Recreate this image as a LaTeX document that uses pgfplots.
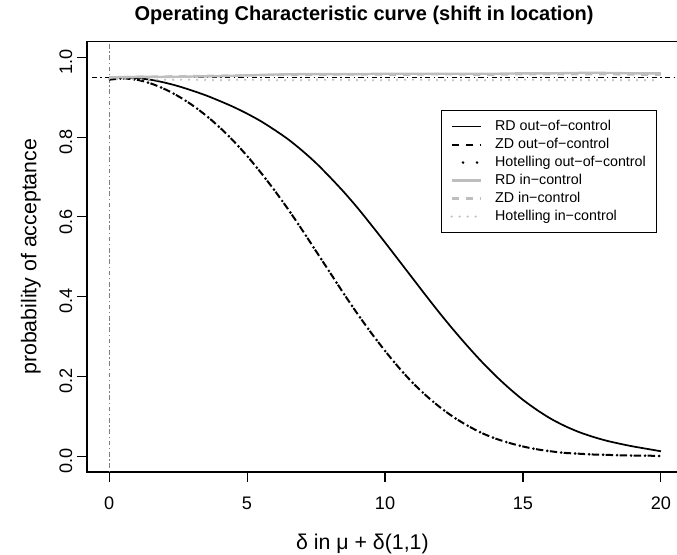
\documentclass[border=0pt]{standalone}
\usepackage{fontspec}
\setmainfont{Liberation Sans}
\usepackage{pgfplots}
\pgfplotsset{compat=1.18}
\usepackage{pgfplotstable}

\definecolor{rgray}{HTML}{BEBEBE}
\definecolor{vgray}{HTML}{7F7F7F}

% out-of-control curves
\pgfplotstableread{
x    rd     zd     hot
0    0.950  0.944  0.947
0.5  0.950  0.947  0.947
1    0.948  0.944  0.944
1.5  0.944  0.935  0.935
2    0.937  0.921  0.921
2.5  0.928  0.903  0.903
3    0.917  0.881  0.881
3.5  0.905  0.855  0.855
4    0.891  0.825  0.825
4.5  0.876  0.791  0.791
5    0.859  0.753  0.753
5.5  0.840  0.711  0.711
6    0.818  0.666  0.666
6.5  0.794  0.618  0.618
7    0.766  0.567  0.567
7.5  0.735  0.514  0.514
8    0.700  0.461  0.461
8.5  0.663  0.408  0.408
9    0.623  0.357  0.357
9.5  0.580  0.309  0.309
10   0.536  0.264  0.264
10.5 0.491  0.222  0.222
11   0.446  0.184  0.184
11.5 0.401  0.151  0.151
12   0.357  0.122  0.122
12.5 0.315  0.097  0.097
13   0.275  0.076  0.076
13.5 0.237  0.058  0.058
14   0.202  0.044  0.044
14.5 0.170  0.033  0.033
15   0.141  0.024  0.024
15.5 0.116  0.017  0.017
16   0.094  0.012  0.012
16.5 0.076  0.008  0.008
17   0.061  0.006  0.006
17.5 0.049  0.004  0.004
18   0.039  0.003  0.003
18.5 0.031  0.002  0.002
19   0.024  0.001  0.001
19.5 0.018  0.001  0.001
20   0.012  0.000  0.000
}\outctrl

% in-control curves
\pgfplotstableread{
x    rd     zd     hot
0    0.950  0.950  0.946
1    0.951  0.951  0.945
2    0.951  0.952  0.944
3    0.952  0.953  0.944
4    0.953  0.954  0.943
5    0.955  0.955  0.944
6    0.957  0.956  0.943
7    0.958  0.956  0.943
8    0.958  0.957  0.944
9    0.958  0.957  0.943
10   0.959  0.957  0.943
11   0.959  0.957  0.944
12   0.959  0.958  0.943
13   0.959  0.957  0.943
14   0.959  0.957  0.943
15   0.960  0.958  0.944
16   0.960  0.958  0.943
17   0.961  0.958  0.943
18   0.961  0.958  0.943
19   0.960  0.957  0.943
20   0.960  0.957  0.943
}\inctrl

\begin{document}
\begin{tikzpicture}
\begin{axis}[
    at={(0,0)}, anchor=south west,
    scale only axis,
    width=447pt, height=322.9pt,
    xmin=-0.8, xmax=20.8,
    ymin=-0.04, ymax=1.04,
    axis line style={black, line width=0.8pt},
    tick align=outside,
    major tick length=7.5pt,
    tick style={black, line width=0.8pt},
    xtick={0,5,10,15,20},
    ytick={0,0.2,0.4,0.6,0.8,1.0},
    xtick pos=bottom, ytick pos=left,
    /pgf/number format/assume math mode=true,
    yticklabel={\pgfmathprintnumber[fixed, fixed zerofill, precision=1]{\tick}},
    ticklabel style={font=\fontsize{13.6}{16}\selectfont},
    xticklabel style={yshift=-7.5pt},
    yticklabel style={rotate=90, anchor=south, xshift=-3.5pt},
    title={Operating Characteristic curve (shift in location)},
    title style={at={(axis description cs:0.465,1.042)}, anchor=center, font=\fontsize{15}{18}\selectfont\bfseries},
    xlabel={δ in μ + δ(1,1)},
    xlabel style={at={(axis description cs:0.462,-0.167)}, anchor=center, font=\fontsize{16}{19}\selectfont},
    ylabel={probability of acceptance},
    ylabel style={at={(axis description cs:-0.094,0.5)}, anchor=center, font=\fontsize{16}{19}\selectfont},
    legend cell align=left,
    legend image code/.code={\draw[#1] (0pt,0pt) -- (22pt,0pt);},
    legend style={at={(axis description cs:0.594,0.84)}, anchor=north west,
        draw=black, line width=0.8pt, fill=white,
        font=\fontsize{10.7}{13.3}\selectfont,
        inner xsep=6.5pt, inner ysep=5pt,
        nodes={inner sep=1.5pt, text height=8pt, text depth=2.5pt},
        /tikz/every odd column/.append style={column sep=8pt}},
]
% reference lines
\addplot[forget plot, vgray, line width=0.8pt, dash pattern=on 1pt off 2pt on 3.5pt off 2pt] coordinates {(0,-0.04) (0,1.04)};
\addplot[forget plot, black, line width=0.7pt, dash pattern=on 1pt off 2.5pt on 4pt off 2.5pt] coordinates {(-0.8,0.95) (20.8,0.95)};

\addplot[black, line width=1.3pt, smooth, legend image post style={line width=1.3pt}] table[x=x, y=rd] {\outctrl};
\addplot[black, line width=1.5pt, smooth, dash pattern=on 5.5pt off 5pt, legend image post style={line width=1.5pt}] table[x=x, y=zd] {\outctrl};
\addplot[black, line width=2.2pt, smooth, line cap=round, dash pattern=on 0pt off 10.5pt, dash phase=2pt, legend image post style={line width=2.2pt}] table[x=x, y=hot] {\outctrl};
\addplot[rgray, line width=1.8pt, smooth, legend image post style={line width=1.8pt}] table[x=x, y=rd] {\inctrl};
\addplot[rgray, line width=1.8pt, smooth, dash pattern=on 5.5pt off 5pt, legend image post style={line width=1.8pt}] table[x=x, y=zd] {\inctrl};
\addplot[rgray, line width=1.8pt, smooth, line cap=round, dash pattern=on 0pt off 6pt, legend image post style={line width=1.8pt}] table[x=x, y=hot] {\inctrl};

\legend{RD out−of−control, ZD out−of−control, Hotelling out−of−control, RD in−control, ZD in−control, Hotelling in−control}
\end{axis}
\pgfresetboundingbox
\path[use as bounding box] (-65.25pt,-62.25pt) rectangle (442.5pt,354pt);
\end{tikzpicture}
\end{document}
